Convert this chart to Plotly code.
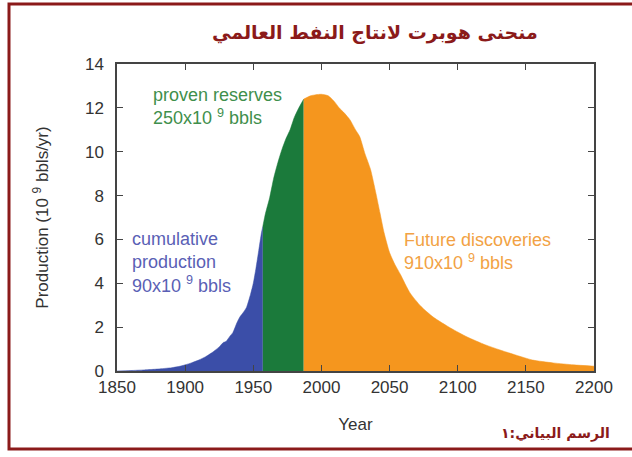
import plotly.graph_objects as go

# ---- data ----
years_cum = [1850, 1860, 1870, 1880, 1890, 1895, 1900, 1905, 1910, 1915, 1920, 1925, 1928, 1930,
             1933, 1935, 1938, 1940, 1943, 1945, 1948, 1950, 1952, 1954, 1956, 1957]
prod_cum = [0, 0.02, 0.05, 0.09, 0.15, 0.2, 0.28, 0.38, 0.5, 0.65, 0.85, 1.1, 1.3, 1.35,
            1.6, 1.75, 2.2, 2.45, 2.7, 2.9, 3.5, 4.0, 4.7, 5.5, 6.3, 6.6]

years_res = [1957, 1959, 1962, 1965, 1968, 1971, 1974, 1977, 1980, 1983, 1987]
prod_res = [6.6, 7.2, 7.9, 8.8, 9.5, 10.1, 10.6, 11.0, 11.55, 11.95, 12.4]

years_fut = [1987, 1992, 1996, 2000, 2005, 2010, 2013, 2017, 2021, 2025, 2028, 2032, 2036, 2040,
             2043, 2046, 2050, 2054, 2058, 2065, 2073, 2082, 2095, 2107, 2120, 2131, 2143, 2155,
             2170, 2185, 2200]
prod_fut = [12.4, 12.55, 12.6, 12.62, 12.55, 12.25, 12.0, 11.75, 11.45, 11.0, 10.7, 9.9, 9.2, 8.1,
            7.2, 6.3, 5.4, 4.85, 4.4, 3.56, 2.95, 2.46, 1.95, 1.55, 1.2, 0.96, 0.72, 0.5,
            0.37, 0.28, 0.22]

x_ticks = [1850, 1900, 1950, 2000, 2050, 2100, 2150, 2200]
y_ticks = [0, 2, 4, 6, 8, 10, 12, 14]

title_text = "منحنى هوبرت لانتاج النفط العالمي"
caption_text = "الرسم البياني:١"

BLUE = "#3b4ea8"
GREEN = "#1b7a3b"
ORANGE = "#f5961e"
DARKRED = "#8b1a1a"
AX = "#444444"

fig = go.Figure()
for xs, ys, col in [(years_cum, prod_cum, BLUE), (years_res, prod_res, GREEN), (years_fut, prod_fut, ORANGE)]:
    fig.add_trace(go.Scatter(x=xs, y=ys, mode="lines", fill="tozeroy", fillcolor=col,
                             line=dict(color=col, width=0.5, shape="spline", smoothing=0.6),
                             showlegend=False, hoverinfo="skip"))

W, H = 632, 457
L, R, T, B = 117, 38, 64, 86
pw, ph = W - L - R, H - T - B

def px(xp):
    return (xp - L) / pw

def py(yp):
    return (H - B - yp) / ph

fig.update_layout(
    width=W, height=H,
    margin=dict(l=L, r=R, t=T, b=B),
    paper_bgcolor="white", plot_bgcolor="white",
    font=dict(family="Liberation Sans, Arial, sans-serif", size=17, color="#333333"),
    xaxis=dict(range=[1850, 2200], tickvals=x_ticks, ticks="inside", ticklen=6, tickcolor=AX,
               showline=True, linecolor=AX, linewidth=1.5, mirror="ticks", showgrid=False,
               zeroline=False, tickfont=dict(size=17),
               title=dict(text="Year", standoff=22, font=dict(size=17))),
    yaxis=dict(range=[0, 14], tickvals=y_ticks, ticks="inside", ticklen=6, tickcolor=AX,
               showline=True, linecolor=AX, linewidth=1.5, mirror="ticks", showgrid=False,
               zeroline=False, tickfont=dict(size=17), ticklabelstandoff=8,
               title=dict(text="Production (10 <sup>9</sup> bbls/yr)", standoff=32, font=dict(size=17))),
    annotations=[
        dict(text=title_text, xref="paper", yref="paper", x=px(375), y=py(33), showarrow=False,
             font=dict(family="DejaVu Sans", size=19, color=DARKRED, weight="bold"),
             xanchor="center", yanchor="middle"),
        dict(text=caption_text, xref="paper", yref="paper", x=px(612), y=py(433), showarrow=False,
             font=dict(family="DejaVu Sans", size=14, color=DARKRED, weight="bold"),
             xanchor="right", yanchor="middle"),
        dict(text="cumulative<br>production<br>90x10 <sup>9</sup> bbls", xref="paper", yref="paper",
             x=px(130), y=py(262), showarrow=False, align="left", xanchor="left", yanchor="middle",
             font=dict(size=18, color="#5a5fb5")),
        dict(text="proven reserves<br>250x10 <sup>9</sup> bbls", xref="paper", yref="paper",
             x=px(151), y=py(107), showarrow=False, align="left", xanchor="left", yanchor="middle",
             font=dict(size=18, color="#3f8f4c")),
        dict(text="Future discoveries<br>910x10 <sup>9</sup> bbls", xref="paper", yref="paper",
             x=px(402), y=py(251), showarrow=False, align="left", xanchor="left", yanchor="middle",
             font=dict(size=18, color="#f2a244")),
    ],
    shapes=[
        dict(type="rect", xref="paper", yref="paper", x0=px(9), x1=px(645), y0=py(449), y1=py(4),
             line=dict(color=DARKRED, width=3), fillcolor="rgba(0,0,0,0)", layer="above"),
    ],
)

fig.write_html("out.html", config={"displayModeBar": False},
               post_script="document.body.style.margin='0px';document.body.style.overflow='hidden';")
